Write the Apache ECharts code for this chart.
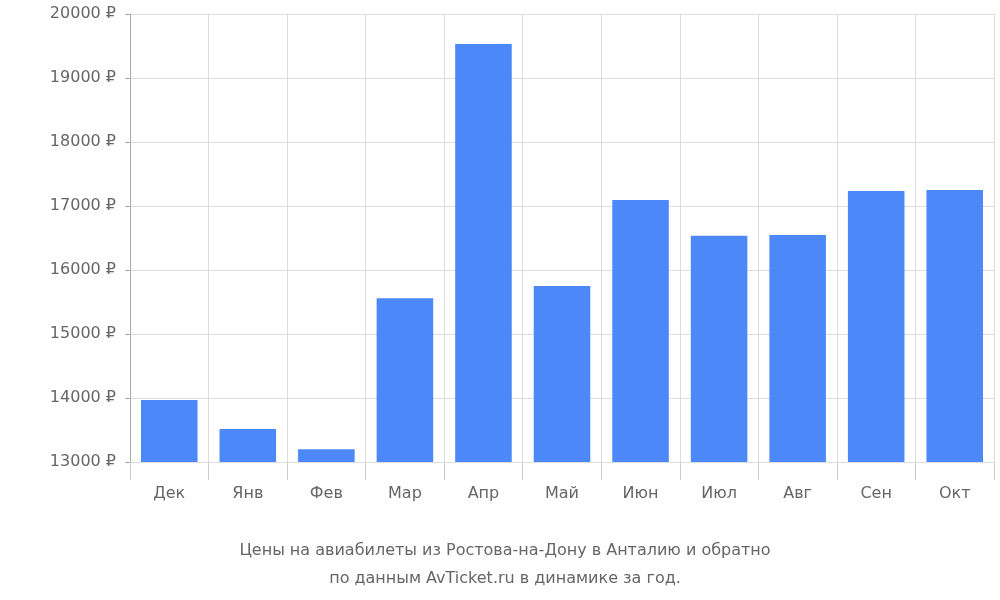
<!DOCTYPE html>
<html><head><meta charset="utf-8">
<script src="https://cdn.jsdelivr.net/npm/echarts@6/dist/echarts.min.js"></script>
<style>html,body{margin:0;padding:0;background:#fff}#c{width:1000px;height:600px}</style>
</head><body><div id="c"></div>
<script>
const categories = ["Дек","Янв","Фев","Мар","Апр","Май","Июн","Июл","Авг","Сен","Окт"];
const prices = [13970, 13515, 13200, 15560, 19530, 15750, 17095, 16535, 16545, 17235, 17250];
const titleLines = ["Цены на авиабилеты из Ростова-на-Дону в Анталию и обратно","по данным AvTicket.ru в динамике за год."];
const chart = echarts.init(document.getElementById('c'));
chart.setOption({
  animation:false,
  textStyle:{fontFamily:'DejaVu Sans'},
  title:{text:titleLines.join('\n'),left:500,textAlign:'center',top:532,
    textStyle:{color:'#666',fontSize:16,fontWeight:'normal',lineHeight:28,fontFamily:'DejaVu Sans'}},
  grid:{left:130,right:6,top:14,bottom:138},
  xAxis:{type:'category',data:categories,
    axisLine:{show:false},
    axisTick:{show:true,length:18,lineStyle:{color:'#ccc'}},
    splitLine:{show:true,lineStyle:{color:'#ddd'}},
    axisLabel:{color:'#666',fontSize:16,margin:24}},
  yAxis:{type:'value',min:13000,max:20000,interval:1000,
    axisLine:{show:true,lineStyle:{color:'#aaa'}},
    axisTick:{show:true,length:5,lineStyle:{color:'#aaa'}},
    splitLine:{lineStyle:{color:'#ddd'}},
    axisLabel:{color:'#666',fontSize:16,margin:14,formatter:v=>v+' ₽'}},
  series:[{type:'bar',data:prices,barWidth:'72%',itemStyle:{color:'#4d88f9'}}]
});
</script></body></html>
